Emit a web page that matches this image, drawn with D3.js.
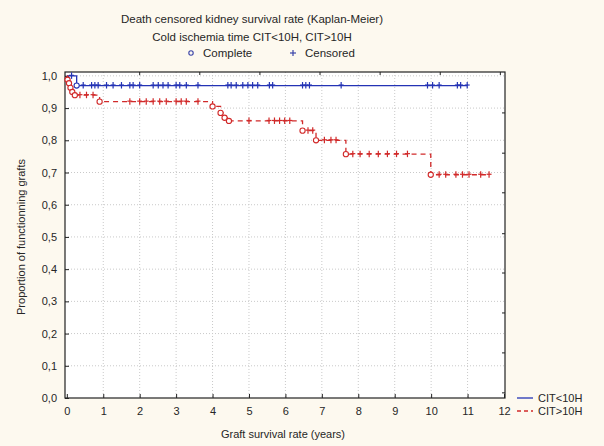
<!DOCTYPE html>
<html>
<head>
<meta charset="utf-8">
<script src="https://cdn.jsdelivr.net/npm/d3@7"></script>
<style>
  html, body { margin: 0; padding: 0; background: #fdf9ef; }
  svg { display: block; font-family: "Liberation Sans", Arial, sans-serif; }
</style>
</head>
<body>
<svg id="chart" width="604" height="446"></svg>
<script>
// Kaplan-Meier curves, CIT<10H vs CIT>10H
const groupNames = ["CIT<10H", "CIT>10H"];

// CIT<10H: event times (years) and survival right after each event
const lowEventTimes = [0.27];
const lowEventSurv = [0.97];
const lowCensored = [0.13, 0.45, 0.68, 0.77, 0.86, 1.09, 1.27, 1.5, 1.73, 1.82, 2.0, 2.37, 2.51, 2.64,
  2.78, 3.0, 3.1, 3.28, 3.6, 4.42, 4.51, 4.65, 4.83, 4.97, 5.1, 5.24, 5.56, 5.65, 6.47, 6.56,
  6.66, 7.53, 9.9, 10.04, 10.22, 10.72, 10.81, 10.99];

// CIT>10H
const highEventTimes = [0.02, 0.06, 0.1, 0.15, 0.22, 0.9, 4.0, 4.22, 4.33, 4.45, 6.47, 6.84, 7.66, 9.99];
const highEventSurv = [0.988, 0.977, 0.963, 0.95, 0.94, 0.92, 0.905, 0.885, 0.87, 0.86, 0.83, 0.80, 0.757, 0.693];
const highCensored = [0.36, 0.54, 0.72, 1.73, 2.0, 2.18, 2.37, 2.55, 2.73, 3.0, 3.14, 3.28, 3.6,
  5.0, 5.55, 5.7, 5.84, 5.98, 6.12, 6.62, 6.75, 7.07, 7.25, 7.39,
  7.85, 8.05, 8.3, 8.55, 8.8, 9.05, 9.35, 10.22, 10.4, 10.68, 10.86, 11.04, 11.36, 11.59];

const xTicks = [0, 1, 2, 3, 4, 5, 6, 7, 8, 9, 10, 11, 12];
const yTicks = [0, 0.1, 0.2, 0.3, 0.4, 0.5, 0.6, 0.7, 0.8, 0.9, 1.0];
const topFrameTicks = [2.0, 3.65, 5.3, 6.95, 8.6, 10.25, 11.9];
const rightFrameTicks = [0.885, 0.76, 0.637, 0.51, 0.388, 0.264, 0.14, 0.016];

const titleLines = ["Death censored kidney survival rate (Kaplan-Meier)", "Cold ischemia time CIT<10H, CIT>10H"];
const xTitle = "Graft survival rate (years)";
const yTitle = "Proportion of functionning grafts";

const colors = { low: "#2433b5", high: "#d12a2a" };
const textColor = "#262626";

const svg = d3.select("#chart");
const plot = { left: 65, right: 505, top: 72, bottom: 398 };

const x = d3.scaleLinear().domain([-0.05, 12]).range([plot.left, 504]);
const y = d3.scaleLinear().domain([0, 1.012]).range([plot.bottom, plot.top]);

// plot background
svg.append("rect")
  .attr("x", plot.left).attr("y", plot.top)
  .attr("width", plot.right - plot.left).attr("height", plot.bottom - plot.top)
  .attr("fill", "#ffffff");

// dotted grid
const grid = svg.append("g").attr("stroke", "#c9c9c9").attr("stroke-dasharray", "1,2").attr("stroke-width", 1);
grid.selectAll(".vx").data(xTicks.slice(1, -1)).join("line")
  .attr("x1", d => x(d)).attr("x2", d => x(d))
  .attr("y1", plot.top).attr("y2", plot.bottom);
grid.selectAll(".hy").data(yTicks.slice(1)).join("line")
  .attr("x1", plot.left).attr("x2", plot.right)
  .attr("y1", d => y(d)).attr("y2", d => y(d));

// axes
const xAxis = svg.append("g")
  .attr("transform", `translate(0,${plot.bottom})`)
  .call(d3.axisBottom(x).tickValues(xTicks).tickSizeInner(-4).tickSizeOuter(0).tickPadding(9));
const yAxis = svg.append("g")
  .attr("transform", `translate(${plot.left},0)`)
  .call(d3.axisLeft(y).tickValues(yTicks).tickSizeInner(-4).tickSizeOuter(0).tickPadding(8)
    .tickFormat(d => d3.format(".1f")(d).replace(".", ",")));
[xAxis, yAxis].forEach(a => {
  a.select(".domain").remove();
  a.selectAll("line").attr("stroke", "#222");
  a.selectAll("text").attr("fill", textColor).attr("font-size", 11).attr("font-family", "Liberation Sans, Arial, sans-serif");
});

// frame
svg.append("rect")
  .attr("x", plot.left).attr("y", plot.top)
  .attr("width", plot.right - plot.left).attr("height", plot.bottom - plot.top)
  .attr("fill", "none").attr("stroke", "#222").attr("stroke-width", 1.2);

// small frame ticks
svg.append("g").selectAll("line").data(topFrameTicks).join("line")
  .attr("x1", d => x(d)).attr("x2", d => x(d))
  .attr("y1", plot.top).attr("y2", plot.top + 3)
  .attr("stroke", "#222");
svg.append("g").selectAll("line").data(rightFrameTicks).join("line")
  .attr("x1", plot.right).attr("x2", plot.right - 3)
  .attr("y1", d => y(d)).attr("y2", d => y(d))
  .attr("stroke", "#222");

// step curves
function stepPoints(times, surv, censored) {
  const pts = [[0, 1]];
  times.forEach((t, i) => pts.push([t, surv[i]]));
  const end = Math.max(d3.max(times), d3.max(censored));
  pts.push([end, surv[surv.length - 1]]);
  return pts;
}
function survAt(t, times, surv) {
  let s = 1;
  times.forEach((et, i) => { if (et <= t) s = surv[i]; });
  return s;
}
const line = d3.line().x(d => x(d[0])).y(d => y(d[1])).curve(d3.curveStepAfter);

const groups = [
  { key: "low", times: lowEventTimes, surv: lowEventSurv, cens: lowCensored, dash: null },
  { key: "high", times: highEventTimes, surv: highEventSurv, cens: highCensored, dash: "5,4" }
];

groups.forEach(g => {
  const c = colors[g.key];
  const layer = svg.append("g");
  layer.append("path")
    .datum(stepPoints(g.times, g.surv, g.cens))
    .attr("d", line)
    .attr("fill", "none")
    .attr("stroke", c)
    .attr("stroke-width", 1.3)
    .attr("stroke-dasharray", g.dash);
  // censored marks
  const plus = layer.selectAll(".cens").data(g.cens).join("g")
    .attr("transform", d => `translate(${x(d)},${y(survAt(d, g.times, g.surv))})`);
  plus.append("line").attr("x1", 0).attr("x2", 0).attr("y1", -3.5).attr("y2", 3).attr("stroke", c).attr("stroke-width", 1.2);
  plus.append("line").attr("x1", -2.5).attr("x2", 2.5).attr("y1", -0.5).attr("y2", -0.5).attr("stroke", c).attr("stroke-width", 1.2);
  // complete events
  layer.selectAll(".ev").data(g.times).join("circle")
    .attr("cx", d => x(d))
    .attr("cy", (d, i) => y(g.surv[i]))
    .attr("r", 2.6)
    .attr("fill", "#ffffff")
    .attr("stroke", c)
    .attr("stroke-width", 1.1);
});

// titles
svg.append("g").selectAll("text").data(titleLines).join("text")
  .attr("x", 252).attr("y", (d, i) => 23 + i * 18)
  .attr("text-anchor", "middle").attr("font-size", 11.5).attr("fill", textColor)
  .text(d => d);

// symbol legend
const sym = svg.append("g").attr("transform", "translate(0,57)");
sym.append("circle").attr("cx", 191).attr("cy", -4).attr("r", 2.2).attr("fill", "none").attr("stroke", "#3a44a8").attr("stroke-width", 1.1);
sym.append("text").attr("x", 203).attr("y", 0).attr("font-size", 11.5).attr("fill", textColor).text("Complete");
sym.append("line").attr("x1", 293).attr("x2", 293).attr("y1", -7).attr("y2", -1).attr("stroke", "#3a44a8").attr("stroke-width", 1.2);
sym.append("line").attr("x1", 290).attr("x2", 296).attr("y1", -4).attr("y2", -4).attr("stroke", "#3a44a8").attr("stroke-width", 1.2);
sym.append("text").attr("x", 305).attr("y", 0).attr("font-size", 11.5).attr("fill", textColor).text("Censored");

// axis titles
svg.append("text").attr("x", 283).attr("y", 438).attr("text-anchor", "middle")
  .attr("font-size", 11).attr("fill", textColor).text(xTitle);
svg.append("text").attr("transform", "translate(25,237) rotate(-90)").attr("text-anchor", "middle")
  .attr("font-size", 11).attr("fill", textColor).text(yTitle);

// group legend
const leg = svg.append("g").selectAll("g").data(groups).join("g")
  .attr("transform", (d, i) => `translate(517,${398 + i * 13})`);
leg.append("line").attr("x1", 0).attr("x2", 16).attr("y1", 0).attr("y2", 0)
  .attr("stroke", d => colors[d.key]).attr("stroke-width", 1.3)
  .attr("stroke-dasharray", d => d.dash ? "4,3" : null);
leg.append("text").attr("x", 21).attr("y", 4).attr("font-size", 11).attr("fill", textColor)
  .text((d, i) => groupNames[i]);
</script>
</body>
</html>
